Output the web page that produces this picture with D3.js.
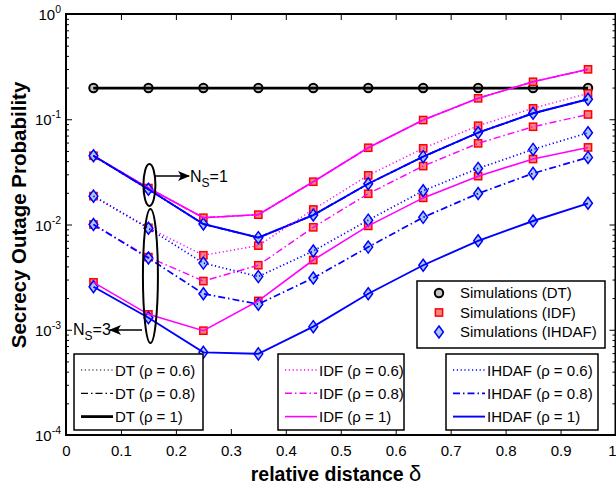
<!DOCTYPE html>
<html>
<head>
<meta charset="utf-8">
<script src="https://cdn.jsdelivr.net/npm/d3@7"></script>
<style>
  body { margin: 0; background: #fff; }
  svg { display: block; }
  text { font-family: "Liberation Sans", Arial, Helvetica, sans-serif; fill: #000; }
</style>
</head>
<body>
<svg id="chart" width="616" height="489"></svg>
<script>
// Relative distance of the relay (x values)
const delta = [0.05, 0.15, 0.25, 0.35, 0.45, 0.55, 0.65, 0.75, 0.85, 0.95];

// Direct transmission: independent of relays and CSI quality
const dt = [0.198, 0.198, 0.198, 0.198, 0.198, 0.198, 0.198, 0.198, 0.198, 0.198];

// Single relay (N_S = 1): the CSI correlation has no effect, curves coincide
const idfNs1   = [0.045, 0.0222, 0.0116, 0.0124, 0.0255, 0.0536, 0.0983, 0.158, 0.227, 0.298];
const ihdafNs1 = [0.045, 0.0216, 0.0101, 0.0075, 0.0123, 0.0244, 0.0441, 0.0745, 0.114, 0.155];

// Three relays (N_S = 3) for rho = 0.6, 0.8 and 1
const idfR06   = [0.0186, 0.0093, 0.0051, 0.0063, 0.0139, 0.0293, 0.0529, 0.0868, 0.127, 0.176];
const idfR08   = [0.0100, 0.0049, 0.0029, 0.0041, 0.0094, 0.0196, 0.0359, 0.0590, 0.0849, 0.111];
const idfR1    = [0.00282, 0.0014, 0.00098, 0.00188, 0.0046, 0.0097, 0.0179, 0.0288, 0.0419, 0.054];
const ihdafR06 = [0.0186, 0.0092, 0.0043, 0.0032, 0.0056, 0.0110, 0.0209, 0.0341, 0.0517, 0.0745];
const ihdafR08 = [0.0100, 0.0048, 0.0022, 0.00175, 0.0031, 0.0061, 0.0117, 0.0197, 0.0306, 0.0434];
const ihdafR1  = [0.00256, 0.0013, 0.00061, 0.00059, 0.00107, 0.0022, 0.0041, 0.0070, 0.0108, 0.0159];

// Axis ticks
const xTicks = [0, 0.1, 0.2, 0.3, 0.4, 0.5, 0.6, 0.7, 0.8, 0.9, 1];
const xTickLabels = ["0", "0.1", "0.2", "0.3", "0.4", "0.5", "0.6", "0.7", "0.8", "0.9", "1"];
const yDecades = [1e-4, 1e-3, 1e-2, 1e-1, 1];
const yExponents = ["-4", "-3", "-2", "-1", "0"];

const legendSim = ["Simulations (DT)", "Simulations (IDF)", "Simulations (IHDAF)"];
const rhoLabels = ["(\u03C1 = 0.6)", "(\u03C1 = 0.8)", "(\u03C1 = 1)"];
const schemes = ["DT", "IDF", "IHDAF"];

// ---- styles ----
const colors = { DT: "#000000", IDF: "#ff00ff", IHDAF: "#0000ff" };
const widths = { DT: 2.8, IDF: 1.6, IHDAF: 1.9 };
const dashes = ["1.2,2.6", "7,3,1.5,3", null];   // rho = 0.6, 0.8, 1

const svg = d3.select("#chart");
const box = { left: 66, right: 615.5, top: 14, bottom: 435 };

const x = d3.scaleLinear().domain([0, 1]).range([box.left, box.right]);
const y = d3.scaleLog().domain([1e-4, 1]).range([box.bottom, box.top]);

// minor ticks of the log axis
const yMinor = [];
yDecades.slice(0, -1).forEach(d => { for (let k = 2; k <= 9; k++) yMinor.push(d * k); });

// ---- axes ----
const gx = svg.append("g").attr("transform", `translate(0,${box.bottom})`)
  .call(d3.axisBottom(x).tickValues(xTicks).tickSize(-6).tickPadding(10)
    .tickFormat((d, i) => xTickLabels[i]));
gx.selectAll("text").style("font-size", "15px")
  .filter(d => d === 1).attr("text-anchor", "end").attr("x", 616 - x(1));

svg.append("g").attr("transform", `translate(0,${box.top})`)
  .call(d3.axisTop(x).tickValues(xTicks).tickSize(-6).tickFormat(""));

svg.append("g").attr("transform", `translate(${box.left},0)`)
  .call(d3.axisLeft(y).tickValues(yDecades).tickSize(-6).tickFormat(""));
svg.append("g").attr("transform", `translate(${box.left},0)`)
  .call(d3.axisLeft(y).tickValues(yMinor).tickSize(-3).tickFormat(""));
svg.append("g").attr("transform", `translate(${box.right},0)`)
  .call(d3.axisRight(y).tickValues(yDecades).tickSize(-6).tickFormat(""));
svg.append("g").attr("transform", `translate(${box.right},0)`)
  .call(d3.axisRight(y).tickValues(yMinor).tickSize(-3).tickFormat(""));

svg.selectAll(".domain").remove();
svg.selectAll(".tick line").attr("stroke", "#000").attr("stroke-width", 1);

// decade labels 10^k
const yLab = svg.append("g");
yDecades.forEach((d, i) => {
  const t = yLab.append("text")
    .attr("x", 61).attr("y", y(d) + 6)
    .attr("text-anchor", "end").style("font-size", "15px");
  t.append("tspan").text("10");
  t.append("tspan").attr("dy", -7).style("font-size", "10.5px").text(yExponents[i]);
});

// ---- series ----
const series = [
  { s: "DT", r: 0, v: dt }, { s: "DT", r: 1, v: dt }, { s: "DT", r: 2, v: dt },
  { s: "IDF", r: 0, v: idfNs1 }, { s: "IDF", r: 1, v: idfNs1 }, { s: "IDF", r: 2, v: idfNs1 },
  { s: "IHDAF", r: 0, v: ihdafNs1 }, { s: "IHDAF", r: 1, v: ihdafNs1 }, { s: "IHDAF", r: 2, v: ihdafNs1 },
  { s: "IDF", r: 0, v: idfR06 }, { s: "IDF", r: 1, v: idfR08 }, { s: "IDF", r: 2, v: idfR1 },
  { s: "IHDAF", r: 0, v: ihdafR06 }, { s: "IHDAF", r: 1, v: ihdafR08 }, { s: "IHDAF", r: 2, v: ihdafR1 }
];

const plot = svg.append("g");

// simulation markers
const circleMark = (g, cx, cy) => g.append("circle").attr("cx", cx).attr("cy", cy).attr("r", 4.2)
  .attr("fill", "#c4c4c4").attr("stroke", "#000").attr("stroke-width", 2);
const squareMark = (g, cx, cy) => g.append("rect").attr("x", cx - 3.6).attr("y", cy - 3.6)
  .attr("width", 7.2).attr("height", 7.2)
  .attr("fill", "#f38484").attr("stroke", "#ff0000").attr("stroke-width", 1.5);
const diamondMark = (g, cx, cy) => g.append("path")
  .attr("d", `M${cx},${cy - 6}L${cx + 4.4},${cy}L${cx},${cy + 6}L${cx - 4.4},${cy}Z`)
  .attr("fill", "#a9c9f2").attr("stroke", "#0000ff").attr("stroke-width", 1.5);
const markers = { DT: circleMark, IDF: squareMark, IHDAF: diamondMark };

const simSets = [
  { s: "DT", v: dt },
  { s: "IDF", v: idfNs1 }, { s: "IDF", v: idfR06 }, { s: "IDF", v: idfR08 }, { s: "IDF", v: idfR1 },
  { s: "IHDAF", v: ihdafNs1 }, { s: "IHDAF", v: ihdafR06 }, { s: "IHDAF", v: ihdafR08 }, { s: "IHDAF", v: ihdafR1 }
];
const mg = plot.append("g");
simSets.forEach(set => set.v.forEach((v, i) => markers[set.s](mg, x(delta[i]), y(v))));

// analytical curves
const lineWidth = (s, r) => r === 2 ? widths[s] : (s === "DT" ? 1.2 : widths[s] * 0.9);
const line = d3.line().x((d, i) => x(delta[i])).y(d => y(d));
series.forEach(d => {
  plot.append("path").datum(d.v).attr("d", line)
    .attr("fill", "none").attr("stroke", colors[d.s])
    .attr("stroke-width", lineWidth(d.s, d.r))
    .attr("stroke-dasharray", dashes[d.r]);
});

// plot frame
svg.append("rect").attr("x", box.left).attr("y", box.top)
  .attr("width", box.right - box.left).attr("height", box.bottom - box.top)
  .attr("fill", "none").attr("stroke", "#000").attr("stroke-width", 2);

// ---- annotations ----
svg.append("defs").append("marker").attr("id", "head")
  .attr("viewBox", "0 0 12 10").attr("refX", 11).attr("refY", 5)
  .attr("markerWidth", 12).attr("markerHeight", 10).attr("markerUnits", "userSpaceOnUse")
  .attr("orient", "auto")
  .append("path").attr("d", "M0,0L12,5L0,10L3,5Z").attr("fill", "#000");

const ann = svg.append("g");
ann.append("ellipse").attr("cx", x(0.15) + 1).attr("cy", 185).attr("rx", 6).attr("ry", 21)
  .attr("fill", "none").attr("stroke", "#000").attr("stroke-width", 2);
ann.append("ellipse").attr("cx", x(0.15) + 2).attr("cy", 276).attr("rx", 7.5).attr("ry", 67)
  .attr("fill", "none").attr("stroke", "#000").attr("stroke-width", 2);
ann.append("line").attr("x1", 154.5).attr("y1", 176).attr("x2", 189).attr("y2", 176)
  .attr("stroke", "#000").attr("stroke-width", 1.5).attr("marker-end", "url(#head)");
ann.append("line").attr("x1", 142).attr("y1", 330).attr("x2", 110).attr("y2", 330)
  .attr("stroke", "#000").attr("stroke-width", 1.5).attr("marker-end", "url(#head)");

function nsLabel(tx, ty, n) {
  const t = ann.append("text").attr("x", tx).attr("y", ty).style("font-size", "16px");
  t.append("tspan").text("N");
  t.append("tspan").attr("dy", 5).style("font-size", "12px").text("S");
  t.append("tspan").attr("dy", -5).text("=" + n);
}
nsLabel(190, 182, 1);
nsLabel(73, 335, 3);

// ---- legends ----
const leg = svg.append("g");
// simulation legend
leg.append("rect").attr("x", 417).attr("y", 281).attr("width", 188).attr("height", 67)
  .attr("fill", "#fff").attr("stroke", "#000").attr("stroke-width", 1.5);
legendSim.forEach((lab, i) => {
  const cy = 293 + i * 19.5;
  markers[schemes[i]](leg, 439, cy);
  leg.append("text").attr("x", 460).attr("y", cy + 5).style("font-size", "15px").text(lab);
});

// line-style legends, one box per scheme
const legBoxes = [
  { s: "DT", x0: 74, x1: 203 },
  { s: "IDF", x0: 278, x1: 404 },
  { s: "IHDAF", x0: 446, x1: 598 }
];
legBoxes.forEach(b => {
  leg.append("rect").attr("x", b.x0).attr("y", 354).attr("width", b.x1 - b.x0).attr("height", 76)
    .attr("fill", "#fff").attr("stroke", "#000").attr("stroke-width", 1.5);
  rhoLabels.forEach((lab, r) => {
    const cy = 370 + r * 23.3;
    leg.append("line").attr("x1", b.x0 + 7).attr("x2", b.x0 + 39).attr("y1", cy).attr("y2", cy)
      .attr("stroke", colors[b.s])
      .attr("stroke-width", lineWidth(b.s, r))
      .attr("stroke-dasharray", dashes[r]);
    leg.append("text").attr("x", b.x0 + 41).attr("y", cy + 5.5).style("font-size", "15px")
      .text(b.s + " " + lab);
  });
});

// ---- axis titles ----
const xt = svg.append("text").attr("x", 336).attr("y", 481).attr("text-anchor", "middle")
  .style("font-size", "19.5px").style("font-weight", "bold");
xt.append("tspan").text("relative distance  ");
xt.append("tspan").style("font-weight", "normal").style("font-size", "22px").text("\u03B4");

svg.append("text").attr("transform", "translate(26,215) rotate(-90)").attr("text-anchor", "middle")
  .style("font-size", "20.5px").style("font-weight", "bold").text("Secrecy Outage Probability");
</script>
</body>
</html>
